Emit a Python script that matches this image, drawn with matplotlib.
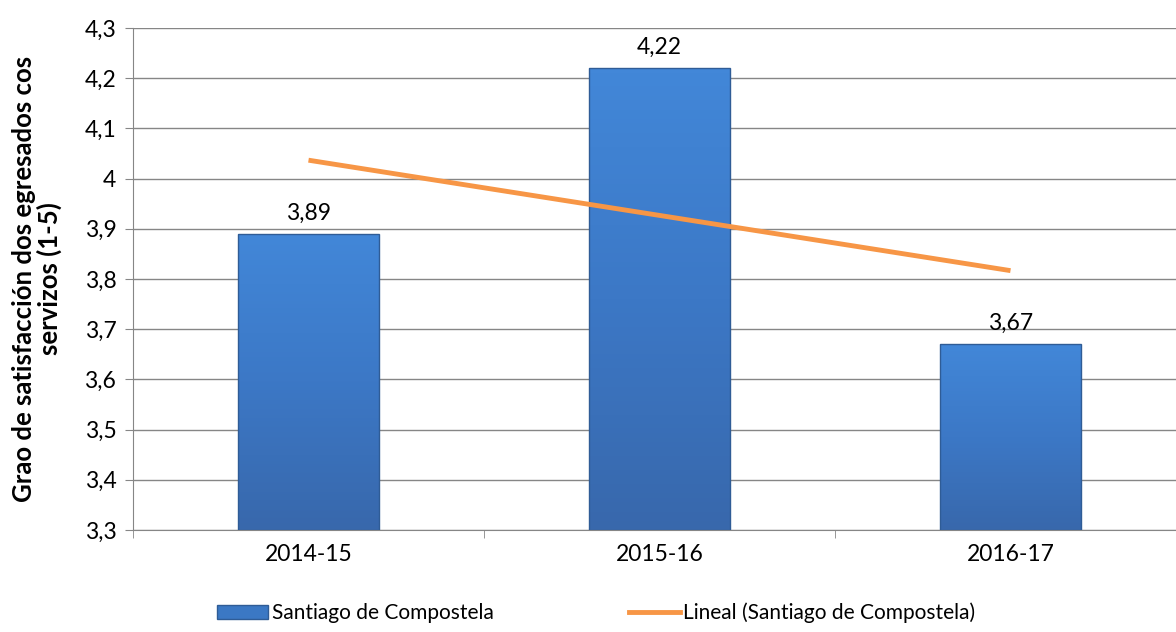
import matplotlib
matplotlib.use('Agg')
import matplotlib.pyplot as plt
import numpy as np
from matplotlib.colors import LinearSegmentedColormap
from matplotlib.patches import Patch
from matplotlib.lines import Line2D

categories = ['2014-15', '2015-16', '2016-17']
values = [3.89, 4.22, 3.67]
yticks = [3.3, 3.4, 3.5, 3.6, 3.7, 3.8, 3.9, 4.0, 4.1, 4.2, 4.3]
series_name = 'Santiago de Compostela'
trend_name = 'Lineal (Santiago de Compostela)'

plt.rcParams['font.family'] = ['Lato', 'DejaVu Sans']
fs = 16.5

fig = plt.figure(figsize=(11.76, 6.32), dpi=100)
# plot area runs a little past the right edge, as in the original
ax = fig.add_axes([0.1131, 0.1614, 0.8954, 0.7943])

x = np.arange(len(categories))
width = 0.40
grad = LinearSegmentedColormap.from_list('blu', ['#3868AC', '#3C78C6', '#4287D8'])

bars = ax.bar(x, [v - 3.3 for v in values], width, bottom=3.3,
              color='none', edgecolor='#2F5C96', linewidth=1.0, zorder=3)
for b in bars:
    x0, y0 = b.get_x(), b.get_y()
    w, h = b.get_width(), b.get_height()
    img = np.linspace(0, 1, 100).reshape(-1, 1)
    im = ax.imshow(img, extent=[x0, x0 + w, y0, y0 + h], origin='lower',
                   cmap=grad, aspect='auto', zorder=2)
    im.set_clip_path(b)

for xi, v in zip(x, values):
    ax.text(xi, v + 0.02, f'{v:.2f}'.replace('.', ','), ha='center', va='bottom',
            fontsize=fs, color='black')

# linear trend line
k, c = np.polyfit(x, values, 1)
ax.plot(x, k * x + c, color='#F79646', lw=3.5, solid_capstyle='butt', zorder=4)

ax.set_xlim(-0.5, 2.5)
ax.set_ylim(3.3, 4.3)
ax.set_yticks(yticks)
ax.set_yticklabels([('%g' % t).replace('.', ',') for t in yticks], fontsize=fs)
ax.yaxis.grid(True, color='#868686', lw=1.0, zorder=0)
ax.set_axisbelow(True)

ax.set_xticks(x)
ax.set_xticklabels(categories, fontsize=fs)
ax.tick_params(axis='x', length=0, pad=10)
ax.set_xticks([-0.5, 0.5, 1.5, 2.5], minor=True)
ax.tick_params(axis='x', which='minor', length=6, color='#868686')
ax.tick_params(axis='y', length=6, color='#868686', pad=6)

for s in ['top', 'right']:
    ax.spines[s].set_visible(False)
for s in ['left', 'bottom']:
    ax.spines[s].set_color('#868686')

ax.set_ylabel('Grao de satisfacción dos egresados cos\nservizos (1-5)',
              fontsize=18.5, fontweight='bold', labelpad=16, linespacing=1.05)

handles = [Patch(facecolor='#3B78C4', edgecolor='#2F5C96', label=series_name),
           Line2D([0], [0], color='#F79646', lw=3.5, label=trend_name)]
fig.legend(handles=handles, loc='lower center', bbox_to_anchor=(0.507, -0.016),
           ncol=2, frameon=False, fontsize=15, handlelength=2.45,
           columnspacing=6.5, handletextpad=0.15)

fig.savefig('out.png', dpi=100)
